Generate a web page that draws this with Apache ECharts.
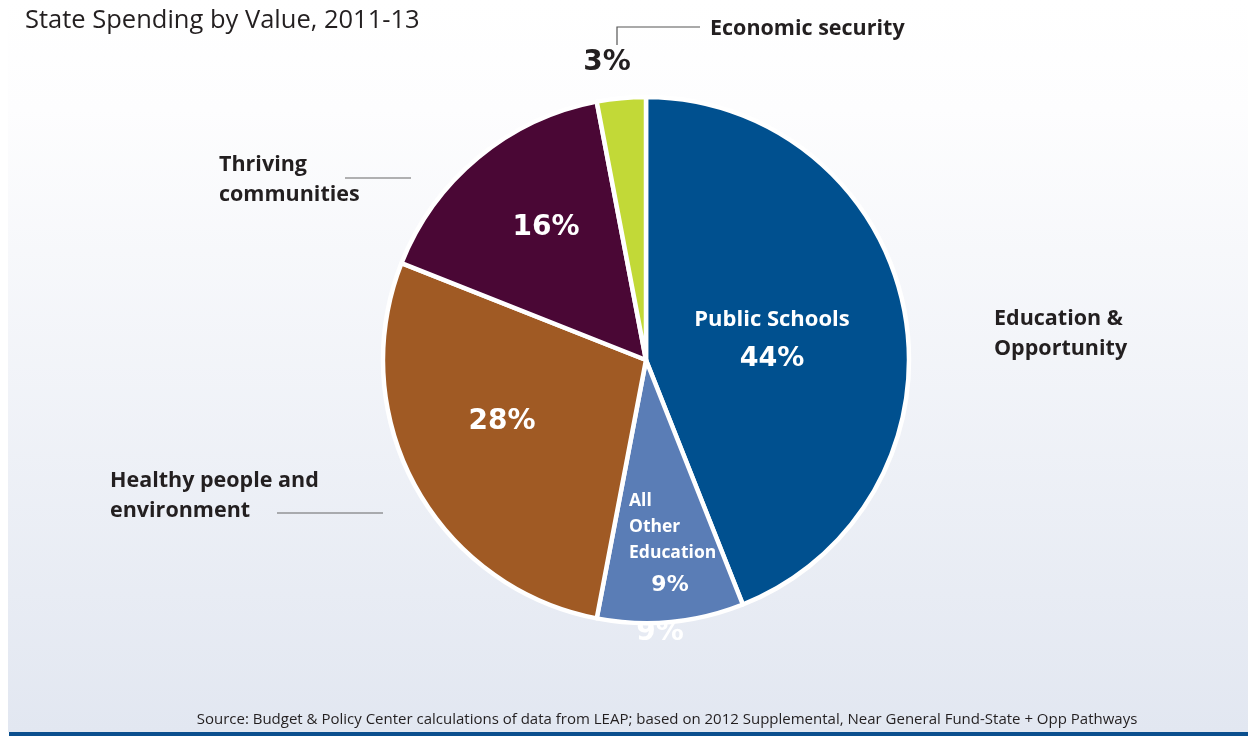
<!DOCTYPE html>
<html>
<head>
<meta charset="utf-8">
<script src="https://cdn.jsdelivr.net/npm/echarts@6/dist/echarts.min.js"></script>
<style>
html,body{margin:0;padding:0;background:#fff;}
#main{width:1248px;height:736px;}
</style>
</head>
<body>
<div id="main"></div>
<script>
const titleText = 'State Spending by Value, 2011-13';
const sourceText = 'Source: Budget & Policy Center calculations of data from LEAP; based on 2012 Supplemental, Near General Fund-State + Opp Pathways';
const categories = ['Public Schools', 'All Other Education', 'Healthy people and environment', 'Thriving communities', 'Economic security'];
const values = [44, 9, 28, 16, 3];
const colors = ['#00508f', '#5a7db6', '#a05a24', '#4a0735', '#c2d937'];
const outerLabels = ['Education &\nOpportunity', 'Healthy people and\nenvironment', 'Thriving\ncommunities', 'Economic security'];

const chart = echarts.init(document.getElementById('main'), null, {renderer: 'canvas'});
const pct = v => v + '%';
const bold = '"Open Sans", "Noto Sans", sans-serif';
const pctFont = '"DejaVu Sans", sans-serif';
const dark = '#231f20';

function txt(text, x, y, opts) {
  return {
    type: 'text', z: opts.z != null ? opts.z : 10,
    style: {
      text: text, x: x, y: y,
      fill: opts.fill || dark,
      font: opts.font,
      textAlign: opts.align || 'left',
      textVerticalAlign: 'middle',
      lineHeight: opts.lh || undefined
    }
  };
}

const graphics = [
  {type: 'rect', z: -10, shape: {x: 8, y: 0, width: 1240, height: 732},
   style: {fill: new echarts.graphic.LinearGradient(0, 0, 0, 1, [
     {offset: 0, color: '#ffffff'}, {offset: 0.15, color: '#fdfdfe'}, {offset: 1, color: '#e2e7f1'}])}},
  {type: 'rect', z: -9, shape: {x: 9, y: 732, width: 1239, height: 4}, style: {fill: '#0b4f8e'}},
  txt(titleText, 25, 21, {font: 'normal 25.5px "Open Sans", sans-serif', fill: '#231f20'}),
  txt(sourceText, 667, 720, {font: 'normal 15px "Liberation Sans Narrow", "Open Sans", sans-serif', align: 'center'}),
  // outer category labels
  txt(outerLabels[3], 710, 29, {font: 'bold 21.5px ' + bold}),
  txt(outerLabels[2], 219, 180, {font: 'bold 21.5px ' + bold, lh: 30}),
  txt(outerLabels[1], 110, 496, {font: 'bold 21.5px ' + bold, lh: 30}),
  txt(outerLabels[0], 994, 334, {font: 'bold 21.5px ' + bold, lh: 30}),
  // leader lines
  {type: 'polyline', z: 10, shape: {points: [[617, 45], [617, 27], [700, 27]]}, style: {stroke: '#555', lineWidth: 1.2, fill: null}},
  {type: 'line', z: 10, shape: {x1: 345, y1: 178, x2: 411, y2: 178}, style: {stroke: '#666', lineWidth: 1.2}},
  {type: 'line', z: 10, shape: {x1: 277, y1: 513, x2: 383, y2: 513}, style: {stroke: '#666', lineWidth: 1.2}},
  // percentages
  txt(pct(values[4]), 607, 63, {font: 'bold 28px ' + pctFont, align: 'center'}),
  txt(categories[0], 772, 320, {font: 'bold 22px ' + bold, fill: '#fff', align: 'center'}),
  txt(pct(values[0]), 772, 359, {font: 'bold 27px ' + pctFont, fill: '#fff', align: 'center'}),
  txt('All\nOther\nEducation', 629, 527, {font: 'bold 17.5px ' + bold, fill: '#fff', lh: 26}),
  txt(pct(values[1]), 670, 585, {font: 'bold 22px ' + pctFont, fill: '#fff', align: 'center'}),
  txt(pct(values[2]), 502, 422, {font: 'bold 28px ' + pctFont, fill: '#fff', align: 'center'}),
  txt(pct(values[3]), 546, 228, {font: 'bold 28px ' + pctFont, fill: '#fff', align: 'center'}),
  // ghost label partially under the pie
  txt(pct(values[1]), 660, 633, {font: 'bold 28px ' + pctFont, fill: '#fff', align: 'center', z: 1})
];

chart.setOption({
  animation: false,
  backgroundColor: 'transparent',
  graphic: graphics,
  series: [{
    type: 'pie',
    z: 5,
    center: [646, 360],
    radius: [0, 263],
    startAngle: 90,
    clockwise: true,
    label: {show: false},
    labelLine: {show: false},
    emphasis: {disabled: true},
    itemStyle: {borderColor: '#ffffff', borderWidth: 4.5},
    data: categories.map((c, i) => ({name: c, value: values[i], itemStyle: {color: colors[i]}}))
  }]
});
</script>
</body>
</html>
